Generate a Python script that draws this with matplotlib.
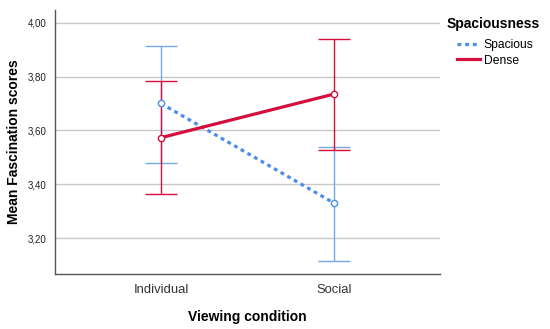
import matplotlib
matplotlib.use('Agg')
import matplotlib.pyplot as plt
from matplotlib.lines import Line2D

plt.rcParams['font.family'] = ['Liberation Sans', 'DejaVu Sans']

conditions = ['Individual', 'Social']
spacious_mean = [3.70, 3.33]
spacious_low = [3.48, 3.115]
spacious_high = [3.915, 3.54]
dense_mean = [3.573, 3.735]
dense_low = [3.365, 3.527]
dense_high = [3.782, 3.94]
yticks = [3.20, 3.40, 3.60, 3.80, 4.00]

blue = '#4a8ee8'
blue_bar = '#72aae8'
red = '#d50f3d'

fig = plt.figure(figsize=(5.5, 3.29), dpi=100)
ax = fig.add_axes([0.1, 0.167, 0.7, 0.803])

x = list(range(len(conditions)))

for mean, low, high, col, barcol, ls in [
        (spacious_mean, spacious_low, spacious_high, blue, blue_bar, (0, (1.2, 1.2))),
        (dense_mean, dense_low, dense_high, red, red, '-')]:
    err = [[m - l for m, l in zip(mean, low)], [h - m for m, h in zip(mean, high)]]
    ax.errorbar(x, mean, yerr=err, fmt='none', ecolor=barcol, elinewidth=1,
                capsize=11.5, capthick=1, zorder=3)
    ax.plot(x, mean, color=col, lw=2.3, linestyle=ls, zorder=4)
    ax.plot(x, mean, 'o', mfc='white', mec=col, ms=4.5, mew=1, zorder=5)

ax.set_xlim(-0.613, 1.613)
ax.set_ylim(3.066, 4.048)
ax.set_xticks(x)
ax.set_xticklabels(conditions, fontsize=9.4, color='#333333')
ax.set_yticks(yticks)
ax.set_yticklabels([('%.2f' % v).replace('.', ',') for v in yticks], fontsize=7, color='#222222')
ax.tick_params(length=0, pad=6)
ax.tick_params(axis='x', pad=7)
ax.grid(axis='y', color='#c8c8c8', lw=1)
ax.set_axisbelow(True)
for s in ['top', 'right']:
    ax.spines[s].set_visible(False)
for s in ['left', 'bottom']:
    ax.spines[s].set_color('#555555')
    ax.spines[s].set_linewidth(1)

ax.set_ylabel('Mean Fascination scores', fontsize=10, fontweight='bold', labelpad=5)
ax.set_xlabel('Viewing condition', fontsize=10, fontweight='bold', labelpad=10)

fig.text(447 / 550, 1 - 24 / 329, 'Spaciousness', fontsize=10, fontweight='bold',
         ha='left', va='center')
handles = [Line2D([], [], color=blue, lw=2.3, linestyle=(0, (1.2, 1.2))),
           Line2D([], [], color=red, lw=2.3)]
fig.legend(handles, ['Spacious', 'Dense'], loc='upper left',
           bbox_to_anchor=(457 / 550, 1 - 39 / 329), frameon=False, fontsize=8.7,
           handlelength=1.9, handletextpad=0.3, labelspacing=0.3, borderpad=0,
           borderaxespad=0)

fig.savefig('out.png', dpi=100)
